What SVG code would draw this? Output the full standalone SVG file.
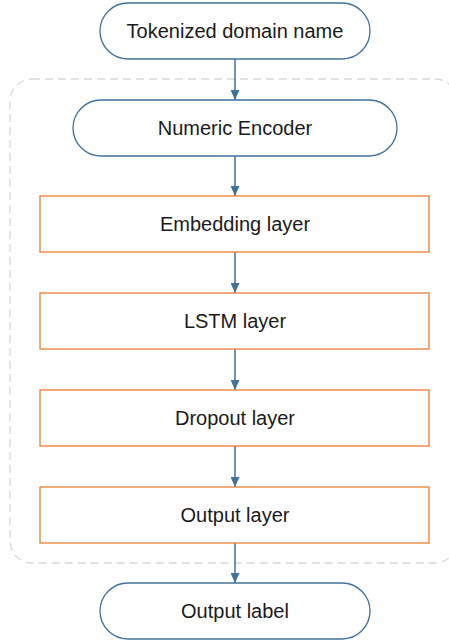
<svg xmlns="http://www.w3.org/2000/svg" width="449" height="640" viewBox="0 0 449 640">
<defs>
<style>
.term{fill:#fff;stroke:#41719c;stroke-width:1.3}
.layer{fill:#fff;stroke:#ed7d31;stroke-width:1.3}
.lbl{font-family:"Liberation Sans",Arial,sans-serif;font-size:20px;fill:#1a1a1a;text-anchor:middle}
.conn{stroke:#41719c;stroke-width:1.5;fill:none;marker-end:url(#ah)}
</style>
<marker id="ah" viewBox="0 0 10 9" refX="10" refY="4.5" markerWidth="10" markerHeight="9" markerUnits="userSpaceOnUse" orient="auto">
<path d="M0,0 L10,4.5 L0,9 Z" fill="#41719c"/>
</marker>
</defs>
<rect id="container" x="10" y="79" width="447" height="484" rx="22" ry="22" fill="none" stroke="#d9d9d9" stroke-width="1.3" stroke-dasharray="8,5"/>
<g id="connectors">
<line class="conn" x1="235" y1="59" x2="235" y2="100"/>
<line class="conn" x1="235" y1="156" x2="235" y2="196"/>
<line class="conn" x1="235" y1="252" x2="235" y2="293"/>
<line class="conn" x1="235" y1="349" x2="235" y2="390"/>
<line class="conn" x1="235" y1="446" x2="235" y2="487"/>
<line class="conn" x1="235" y1="543" x2="235" y2="583"/>
</g>
<g id="tokenized">
<rect class="term" x="100" y="3" width="270" height="56" rx="28" ry="28"/>
<text class="lbl" x="235" y="38">Tokenized domain name</text>
</g>
<g id="encoder">
<rect class="term" x="73" y="100" width="324" height="56" rx="28" ry="28"/>
<text class="lbl" x="235" y="135">Numeric Encoder</text>
</g>
<g id="embedding">
<rect class="layer" x="40" y="196" width="389" height="56"/>
<text class="lbl" x="235" y="231">Embedding layer</text>
</g>
<g id="lstm">
<rect class="layer" x="40" y="293" width="389" height="56"/>
<text class="lbl" x="235" y="328">LSTM layer</text>
</g>
<g id="dropout">
<rect class="layer" x="40" y="390" width="389" height="56"/>
<text class="lbl" x="235" y="425">Dropout layer</text>
</g>
<g id="outputlayer">
<rect class="layer" x="40" y="487" width="389" height="56"/>
<text class="lbl" x="235" y="522">Output layer</text>
</g>
<g id="outputlabel">
<rect class="term" x="100" y="583" width="270" height="56" rx="28" ry="28"/>
<text class="lbl" x="235" y="618">Output label</text>
</g>
</svg>
